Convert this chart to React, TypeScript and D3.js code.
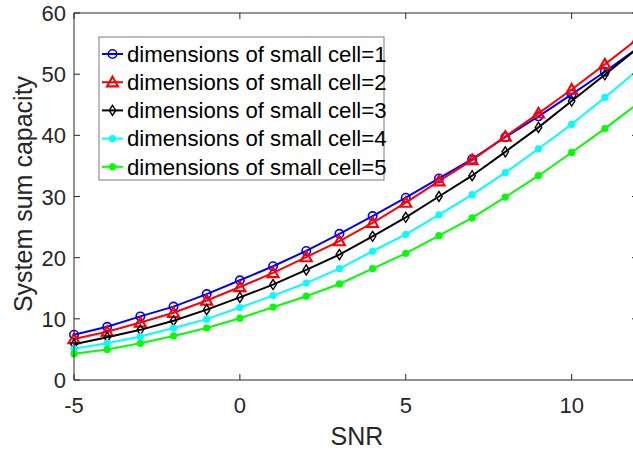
import React from "react";
import * as d3 from "d3";

const snr = [-5, -4, -3, -2, -1, 0, 1, 2, 3, 4, 5, 6, 7, 8, 9, 10, 11, 12];
const dim1 = [7.4, 8.7, 10.4, 12.0, 14.05, 16.3, 18.6, 21.1, 23.9, 26.8, 29.8, 32.95, 36.1, 39.7, 43.1, 46.7, 50.4, 54.3];
const dim2 = [6.7, 7.9, 9.4, 11.0, 13.0, 15.2, 17.5, 20.1, 22.7, 25.7, 29.0, 32.5, 35.95, 39.8, 43.6, 47.5, 51.6, 55.8];
const dim3 = [5.85, 7.0, 8.2, 9.7, 11.5, 13.5, 15.6, 18.0, 20.5, 23.5, 26.6, 30.0, 33.4, 37.3, 41.3, 45.6, 49.9, 54.3];
const dim4 = [5.1, 6.0, 7.1, 8.5, 9.95, 11.85, 13.8, 15.85, 18.2, 21.05, 23.8, 27.0, 30.3, 33.9, 37.8, 41.8, 46.2, 50.7];
const dim5 = [4.3, 5.0, 6.0, 7.2, 8.5, 10.1, 11.9, 13.7, 15.7, 18.2, 20.7, 23.6, 26.5, 29.9, 33.4, 37.2, 41.1, 45.2];

const seriesNames = [
  "dimensions of small cell=1",
  "dimensions of small cell=2",
  "dimensions of small cell=3",
  "dimensions of small cell=4",
  "dimensions of small cell=5",
];
const seriesColors = ["#0000ff", "#ff0000", "#000000", "#00ffff", "#00ff00"];
const seriesMarkers = ["circle", "triangle", "diamond", "dot", "dot"];
const xTicks = [-5, 0, 5, 10];
const yTicks = [0, 10, 20, 30, 40, 50, 60];

const W = 633;
const H = 452;
const left = 74;
const right = 638;
const top = 13;
const bottom = 380;
const FONT = "'Liberation Sans', Arial, Helvetica, sans-serif";
const AXC = "#262626";

function Marker({ type, x, y, color }: { type: string; x: number; y: number; color: string }) {
  if (type === "circle")
    return <circle cx={x} cy={y} r={4.2} fill="none" stroke={color} strokeWidth={1.6} />;
  if (type === "triangle") {
    const s = 5.5;
    const pts = `${x},${y - s} ${x + s},${y + s * 0.75} ${x - s},${y + s * 0.75}`;
    return <polygon points={pts} fill="none" stroke={color} strokeWidth={2.1} />;
  }
  if (type === "diamond") {
    const s = 5;
    const pts = `${x},${y - s} ${x + s * 0.65},${y} ${x},${y + s} ${x - s * 0.65},${y}`;
    return <polygon points={pts} fill="none" stroke={color} strokeWidth={1.4} />;
  }
  return <circle cx={x} cy={y} r={3.6} fill={color} stroke="none" />;
}

export default function App() {
  const xs = d3.scaleLinear().domain([-5, 12]).range([left, right]);
  const ys = d3.scaleLinear().domain([0, 60]).range([bottom, top]);
  const all = [dim1, dim2, dim3, dim4, dim5];
  const line = d3
    .line<number>()
    .x((_, i) => xs(snr[i]))
    .y((d) => ys(d));

  const legX = 99;
  const legY = 37;
  const rowH = 28.2;

  return (
    <svg
      width={W}
      height={H}
      style={{ position: "absolute", left: 0, top: 0, background: "#fff" }}
      fontFamily={FONT}
    >
      <rect x={0} y={0} width={W} height={H} fill="#fff" />
      {all.map((vals, k) => (
        <g key={k}>
          <path d={line(vals) || ""} fill="none" stroke={seriesColors[k]} strokeWidth={2} />
          {vals.map((v, i) => (
            <Marker key={i} type={seriesMarkers[k]} x={xs(snr[i])} y={ys(v)} color={seriesColors[k]} />
          ))}
        </g>
      ))}
      <line x1={left} x2={left} y1={top} y2={bottom} stroke={AXC} strokeWidth={1} />
      <line x1={left} x2={right} y1={bottom} y2={bottom} stroke={AXC} strokeWidth={1} />
      <line x1={left} x2={right} y1={top} y2={top} stroke={AXC} strokeWidth={1} />
      <line x1={right} x2={right} y1={top} y2={bottom} stroke={AXC} strokeWidth={1} />
      {xTicks.map((t) => (
        <g key={"x" + t}>
          <line x1={xs(t)} x2={xs(t)} y1={bottom} y2={bottom - 6} stroke={AXC} />
          <line x1={xs(t)} x2={xs(t)} y1={top} y2={top + 6} stroke={AXC} />
          <text x={xs(t)} y={413} textAnchor="middle" fontSize={22} fill={AXC}>
            {t}
          </text>
        </g>
      ))}
      {yTicks.map((t) => (
        <g key={"y" + t}>
          <line x1={left} x2={left + 6} y1={ys(t)} y2={ys(t)} stroke={AXC} />
          <line x1={right} x2={right - 6} y1={ys(t)} y2={ys(t)} stroke={AXC} />
          <text x={66} y={ys(t) + 8} textAnchor="end" fontSize={22} fill={AXC}>
            {t}
          </text>
        </g>
      ))}
      <text x={357} y={445} textAnchor="middle" fontSize={25} fill={AXC}>
        SNR
      </text>
      <text
        transform={`translate(32, 194) rotate(-90)`}
        textAnchor="middle"
        fontSize={25}
        fill={AXC}
      >
        System sum capacity
      </text>
      <rect x={legX} y={legY} width={285} height={143} fill="#fff" stroke="#7a7a7a" strokeWidth={1} />
      {seriesNames.map((n, k) => {
        const cy = legY + 17 + k * rowH;
        return (
          <g key={n}>
            <line x1={102} x2={123} y1={cy} y2={cy} stroke={seriesColors[k]} strokeWidth={2} />
            <Marker type={seriesMarkers[k]} x={112.5} y={cy} color={seriesColors[k]} />
            <text x={127} y={cy + 7.8} fontSize={22.2} fill="#000">
              {n}
            </text>
          </g>
        );
      })}
    </svg>
  );
}
